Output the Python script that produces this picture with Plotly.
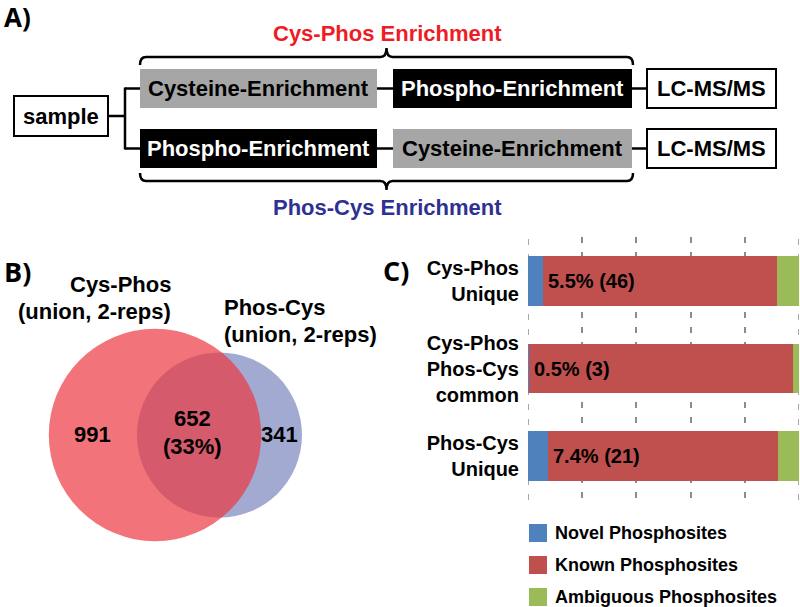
import math
import plotly.graph_objects as go

# ---------------- data ----------------
# Panel A workflow
row1_steps = ["Cysteine-Enrichment", "Phospho-Enrichment", "LC-MS/MS"]
row2_steps = ["Phospho-Enrichment", "Cysteine-Enrichment", "LC-MS/MS"]
top_title = "Cys-Phos Enrichment"
bottom_title = "Phos-Cys Enrichment"

# Panel B Venn counts
venn_only_a = 991
venn_common = 652
venn_only_b = 341
venn_common_pct = "33%"
venn_label_a = ["Cys-Phos", "(union, 2-reps)"]
venn_label_b = ["Phos-Cys", "(union, 2-reps)"]

# Panel C stacked bars (percent)
bar_categories = ["Cys-Phos<br>Unique", "Cys-Phos<br>Phos-Cys<br>common", "Phos-Cys<br>Unique"]
novel_pct = [5.5, 0.5, 7.4]
known_pct = [86.4, 97.3, 84.9]
ambiguous_pct = [8.1, 2.2, 7.7]
novel_counts = [46, 3, 21]
series_names = ["Novel Phosphosites", "Known Phosphosites", "Ambiguous Phosphosites"]
series_colors = ["#4F81BD", "#C0504D", "#9BBB59"]

# ---------------- styling ----------------
W, H = 800, 607
FONT = "Liberation Sans, Arial, sans-serif"
LABEL_FONT = "Open Sans, Liberation Sans, sans-serif"
LW = 2.5
GRID_COLOR = "#8C8C8C"
GRID_DASH = "6px,9px"

fig = go.Figure()
shapes = []
annotations = []


def text(x, y, s, size=22, color="black", xanchor="center", family=FONT):
    annotations.append(dict(x=x, y=y, xref="x", yref="y", text=s, showarrow=False,
                            xanchor=xanchor, yanchor="middle",
                            font=dict(family=family, size=size, color=color, weight="bold")))


def line(x0, y0, x1, y1, width=LW):
    shapes.append(dict(type="line", xref="x", yref="y", x0=x0, y0=y0, x1=x1, y1=y1,
                       line=dict(color="black", width=width)))


def rect(x0, y0, x1, y1, fill, border=None):
    shapes.append(dict(type="rect", xref="x", yref="y", x0=x0, y0=y0, x1=x1, y1=y1,
                       fillcolor=fill, line=dict(color=border or fill, width=2 if border else 0)))


# ---------------- Panel A ----------------
text(17, 17, "A)", size=26, family=LABEL_FONT)

step_style = {
    "Cysteine-Enrichment": ("#A6A6A6", None, "black"),
    "Phospho-Enrichment": ("black", None, "white"),
    "LC-MS/MS": ("white", "black", "black"),
}
col_x = [(140, 377), (393, 632), (647, 776)]
row_y = [(69, 108), (129, 168)]

for rows, (y0, y1) in zip([row1_steps, row2_steps], row_y):
    yc = (y0 + y1) / 2
    for i, (step, (x0, x1)) in enumerate(zip(rows, col_x)):
        fill, border, tcol = step_style[step]
        rect(x0, y0, x1, y1, fill, border)
        text((x0 + x1) / 2, yc, step, color=tcol)
        if i > 0:
            line(col_x[i - 1][1], yc, x0, yc)
    line(125, yc, 140, yc)

# sample box
rect(14, 96, 108, 136, "white", "black")
text(61, 116, "sample")
line(108, 116, 125, 116)
line(125, (row_y[0][0] + row_y[0][1]) / 2 - 1, 125, (row_y[1][0] + row_y[1][1]) / 2 + 1)


def bracket(x0, x1, yh, yend, ypeak, r=6):
    xc = (x0 + x1) / 2
    p = (f"M {x0},{yend} Q {x0},{yh} {x0 + r},{yh} L {xc - r},{yh} "
         f"Q {xc},{yh} {xc},{ypeak} Q {xc},{yh} {xc + r},{yh} "
         f"L {x1 - r},{yh} Q {x1},{yh} {x1},{yend}")
    shapes.append(dict(type="path", xref="x", yref="y", path=p,
                       line=dict(color="black", width=LW)))


bracket(140, 633, 57, 65, 48)
bracket(140, 633, 181, 173, 190)
text(387, 33, top_title, color="#EE1C25")
text(387, 207, bottom_title, color="#2E3192")

# ---------------- Panel B ----------------
text(17, 271, "B)", size=27, family=LABEL_FONT)
k = 2.62
r_a = k * math.sqrt(venn_only_a + venn_common)
r_b = k * math.sqrt(venn_only_b + venn_common)
ca = (155, 435)
cb = (302 - r_b, 435)
shapes.append(dict(type="circle", xref="x", yref="y", layer="below",
                   x0=cb[0] - r_b, x1=cb[0] + r_b, y0=cb[1] - r_b, y1=cb[1] + r_b,
                   fillcolor="rgb(162,170,210)", line=dict(width=0)))
shapes.append(dict(type="circle", xref="x", yref="y", layer="below", opacity=0.69,
                   x0=ca[0] - r_a, x1=ca[0] + r_a, y0=ca[1] - r_a, y1=ca[1] + r_a,
                   fillcolor="rgb(236,54,62)", line=dict(width=0)))

text(173, 284, venn_label_a[0], size=22, xanchor="right")
text(173, 311, venn_label_a[1], size=22, xanchor="right")
text(222, 307, venn_label_b[0], size=22, xanchor="left")
text(222, 334, venn_label_b[1], size=22, xanchor="left")
text(92, 434, str(venn_only_a), size=22)
text(192, 418, str(venn_common), size=22)
text(192, 446, f"({venn_common_pct})", size=22)
text(279, 434, str(venn_only_b), size=22)

# ---------------- Panel C ----------------
text(396, 270, "C)", size=27, family=LABEL_FONT)
for name, vals, col in zip(series_names, [novel_pct, known_pct, ambiguous_pct], series_colors):
    fig.add_trace(go.Bar(y=bar_categories, x=vals, name=name, orientation="h",
                         marker=dict(color=col, line=dict(width=0)),
                         xaxis="x2", yaxis="y2", showlegend=False))

for cat, v, n in zip(bar_categories, novel_pct, novel_counts):
    annotations.append(dict(x=v, y=cat, xref="x2", yref="y2", text=f"{v}% ({n})",
                            showarrow=False, xanchor="left", xshift=3,
                            font=dict(family=FONT, size=20, color="black", weight="bold")))

# edge gridlines (0% and 100%) that plotly omits at plot-area borders
for gx in (0, 100):
    shapes.append(dict(type="line", xref="x2", yref="y2 domain", x0=gx, x1=gx, y0=0, y1=1,
                       layer="below", line=dict(color=GRID_COLOR, width=1.5, dash=GRID_DASH)))

# manual legend
for i, (name, col) in enumerate(zip(series_names, series_colors)):
    yc = 533 + 32 * i
    rect(529, yc - 9, 547, yc + 9, col)
    text(553, yc, name, size=18, xanchor="left")

fig.update_layout(
    width=W, height=H, margin=dict(l=0, r=0, t=0, b=0),
    paper_bgcolor="white", plot_bgcolor="rgba(0,0,0,0)",
    barmode="stack", bargap=0.43,
    xaxis=dict(domain=[0, 1], range=[0, W], visible=False, fixedrange=True),
    yaxis=dict(domain=[0, 1], range=[H, 0], visible=False, fixedrange=True),
    xaxis2=dict(domain=[528 / W, 799 / W], range=[0, 100], anchor="y2",
                showticklabels=False, showgrid=True, gridcolor=GRID_COLOR, gridwidth=1.5,
                griddash=GRID_DASH, dtick=20, zeroline=False, showline=False, ticks=""),
    yaxis2=dict(domain=[1 - 500 / H, 1 - 237 / H], anchor="x2", autorange="reversed",
                showgrid=False, zeroline=False, showline=False, ticks="",
                ticklabelstandoff=8,
                tickfont=dict(family=FONT, size=20, color="black", weight="bold")),
    shapes=shapes, annotations=annotations, showlegend=False,
)

fig.write_html("out.html", config={"displayModeBar": False},
               post_script="document.body.style.margin='0';document.body.style.overflow='hidden';")
